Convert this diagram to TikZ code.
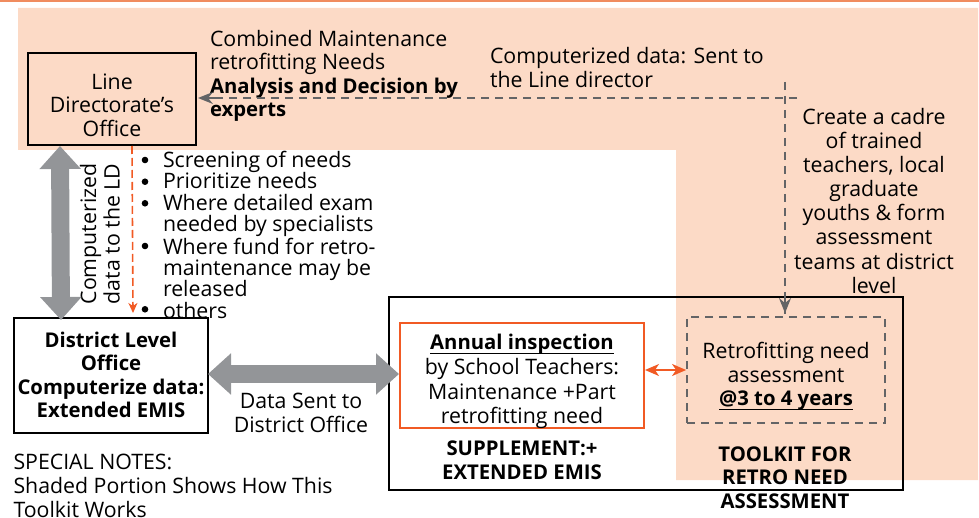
\documentclass[tikz,border=0pt]{standalone}
\usepackage{fontspec}
\setmainfont{Open Sans}
\usetikzlibrary{arrows.meta}
\definecolor{peach}{RGB}{252,218,198}
\definecolor{orng}{RGB}{241,90,36}
\definecolor{toporng}{RGB}{240,140,95}
\definecolor{garrow}{RGB}{147,149,152}
\definecolor{gdash}{RGB}{99,100,102}
\newcommand\myul[1]{\setbox0\hbox{#1}\makebox[0pt][l]{\rule[-4.2pt]{\wd0}{1.2pt}}\box0}
\newcommand\bsz{\fontsize{20.3}{23.5}\selectfont\bfseries}
\begin{document}
\begin{tikzpicture}[x=1pt,y=-1pt,
  txt/.style={font=\fontsize{21.3}{23.5}\selectfont, inner sep=0pt, outer sep=0pt},
  btxt/.style={font=\bsz, inner sep=0pt, outer sep=0pt},
  blk/.style={draw=black, line width=2pt, inner sep=0pt},
  bigarrow/.style={draw=garrow, line width=18pt, {Triangle[width=40pt,length=23pt]}-{Triangle[width=40pt,length=23pt]}},
  gdashline/.style={draw=gdash, line width=2pt, dash pattern=on 8pt off 6pt},
  gtip/.style={-{Stealth[length=15pt,width=12pt,inset=5pt]}},
  dot/.style={fill=black},
]
\path[use as bounding box] (0,0) rectangle (979,518);
% shaded portion
\fill[peach] (18,8) -- (978,8) -- (978,480) -- (676,480) -- (676,150) -- (18,150) -- cycle;
\draw[toporng, line width=1.6pt] (0,0.8) -- (979,0.8);

% boxes
\node[blk, minimum width=168pt, minimum height=92pt] (ld) at (112,99) {};
\node[txt, align=center] (ldt) at (112,105.2) {Line\\Directorate’s\\Office};

\node[blk, btxt, minimum width=194pt, minimum height=115pt, align=center] (dist) at (111,375.5) {\vphantom{Dl}District Level\\Office\\Computerize data:\\Extended EMIS\rule[-1.5pt]{0pt}{1pt}};

\node[blk, minimum width=514pt, minimum height=193pt] (sup) at (646,393.5) {};
\node[draw=orng, line width=2pt, inner sep=0pt, minimum width=244pt, minimum height=105pt] (ann) at (522,375.5) {};
\node[txt, font=\fontsize{21.3}{24.6}\selectfont, align=center] (annt) at (522,381.6) {{\bsz\myul{Annual inspection}}\\by School Teachers:\\Maintenance +Part\\retrofitting need};
\node[btxt, align=center] (supt) at (522,460.3) {SUPPLEMENT:+\\EXTENDED EMIS};

\node[draw=gdash, line width=1.8pt, dash pattern=on 8pt off 6pt, inner sep=0pt, minimum width=198pt, minimum height=106pt] (rna) at (786,370) {};
\node[txt, align=center] (rnat) at (786,376.4) {Retrofitting need\\assessment\\{\bsz\myul{@3 to 4 years}}};
\node[btxt, align=center] (tool) at (785,477.3) {TOOLKIT FOR\\RETRO NEED\\ASSESSMENT};

% texts
\node[txt, anchor=west, align=left] (comb) at (210,75.9) {Combined Maintenance\\retrofitting Needs\\{\bsz Analysis and Decision by}\\{\bsz experts}};
\node[txt, anchor=west, align=left] (cdat) at (490,67.4) {Computerized data: Sent to\\the Line director};
\node[txt, font=\fontsize{21.3}{24.1}\selectfont, align=center] (cadre) at (874,200.8) {Create a cadre\\of trained\\teachers, local\\graduate\\youths \& form\\assessment\\teams at district\\level};
\node[txt, font=\fontsize{21.3}{21.4}\selectfont, anchor=west, align=left] (bullets) at (163,234.9) {Screening of needs\\Prioritize needs\\Where detailed exam\\needed by specialists\\Where fund for retro-\\maintenance may be\\released\\others};
\foreach \by in {160,181.7,203.3,246,309.3} \fill[dot] (145,\by) circle (3.3pt);
\node[txt, rotate=90, align=center] (rot) at (100,234) {Computerized\\data to the LD};
\node[txt, font=\fontsize{21.3}{23.9}\selectfont, align=center] (dsent) at (301,412.8) {Data Sent to\\District Office};
\node[txt, font=\fontsize{21.3}{23.6}\selectfont, anchor=north west, align=left] (notes) at (13.5,454.5) {SPECIAL NOTES:\\Shaded Portion Shows How This\\Toolkit Works};

% connectors
\draw[bigarrow] ([xshift=33pt]ld.south west) -- ([xshift=47pt,yshift=-2pt]dist.north west);
\draw[bigarrow] ([yshift=1.5pt]dist.east) -- ([yshift=1.5pt]ann.west);
\draw[orng, line width=1.6pt, dash pattern=on 8pt off 4pt, -{Stealth[length=10pt,width=9pt,inset=3pt]}] ([xshift=105pt]ld.south west) -- ([xshift=119pt,yshift=5pt]dist.north west);
\draw[orng, line width=1.6pt, {Stealth[length=14pt,width=12pt,inset=4pt]}-{Stealth[length=14pt,width=12pt,inset=4pt]}] ([yshift=5.5pt]ann.east) -- ([yshift=5.5pt]ann.east -| rna.west);
\coordinate (hstart) at (797,98);
\coordinate (vstart) at (785,82);
\draw[gdashline] (hstart) -- (hstart -| ld.east);
\draw[gdash, line width=2pt, gtip, shorten >=1pt] ([xshift=18pt]hstart -| ld.east) -- (hstart -| ld.east);
\draw[gdashline] (vstart) -- (vstart |- rna.north);
\draw[gdash, line width=2pt, gtip, shorten >=3pt] ([yshift=18pt]vstart |- rna.north) -- (vstart |- rna.north);
\end{tikzpicture}
\end{document}
